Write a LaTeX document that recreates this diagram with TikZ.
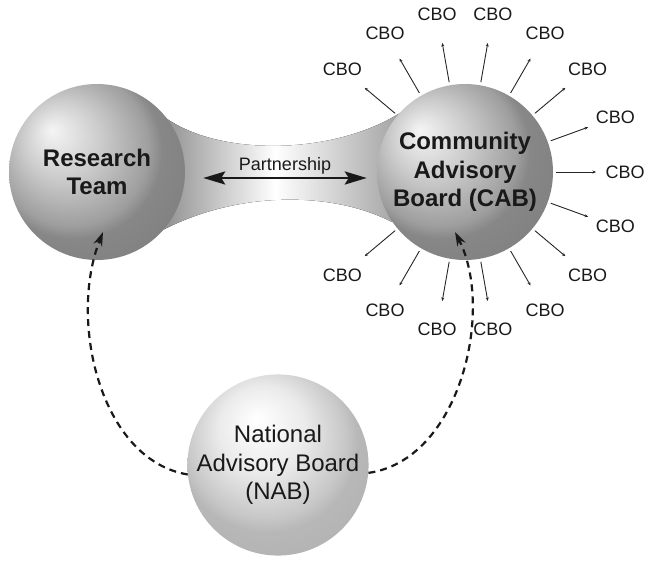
\documentclass[tikz,border=0pt]{standalone}
\usepackage{fontspec}
\setmainfont{Liberation Sans}
\usepackage{tikz}
\usetikzlibrary{arrows.meta,calc,positioning}
\pgfdeclareradialshading{sphereShade}{\pgfpoint{-13bp}{12bp}}{color(0bp)=(black!4); color(11bp)=(black!20); color(22bp)=(black!38); color(25bp)=(black!47); color(50bp)=(black!55)}
\pgfdeclareradialshading{nabShade}{\pgfpoint{-6bp}{13bp}}{color(0bp)=(white); color(12bp)=(black!8); color(22bp)=(black!22); color(25bp)=(black!28); color(50bp)=(black!35)}

\begin{document}
\begin{tikzpicture}[
    x=1pt, y=1pt,
    sphereNode/.style={circle, minimum size=176pt, inner sep=0pt, shading=sphereShade, align=center, text=black!90, font=\fontsize{24pt}{28.5pt}\selectfont\bfseries},
    nabNode/.style={circle, minimum size=174pt, inner sep=0pt, shading=nabShade, align=center, text=black!90, font=\fontsize{24pt}{28.5pt}\selectfont},
    cboLabel/.style={font=\fontsize{18pt}{20pt}\selectfont, inner sep=0pt, text=black!90},
    cboArrow/.style={-{Stealth[length=3.5pt,width=3pt]}, line width=0.9pt, shorten <=3pt, black!85},
    partnerArrow/.style={{Stealth[length=22pt,width=13pt,inset=4pt]}-{Stealth[length=22pt,width=13pt,inset=4pt]}, line width=2.8pt, black!90},
    dashArrow/.style={-{Stealth[length=14pt,width=9pt]}, line width=2.2pt, dash pattern=on 7pt off 5pt, black!90},
    tubeFill/.style={left color=black!60, right color=black!45, middle color=white}
]
\useasboundingbox (0,0) rectangle (653,560);

% neck joining the two spheres
\fill[tubeFill] (158,448) .. controls (210,403) and (330,403) .. (400,447) -- (430,388) -- (392,338) .. controls (330,370) and (230,370) .. (150,323) -- (120,388) -- cycle;

\node[sphereNode] (rt) at (97,388) {Research\\Team};
\node[sphereNode] (cab) at (465,388) {Community\\Advisory\\Board (CAB)};
\node[nabNode] (nab) at (278,95) {National\\Advisory Board\\(NAB)};

\draw[partnerArrow] ([xshift=18pt,yshift=-6pt]rt.east) -- node[above=2pt, inner sep=0pt, font=\fontsize{18pt}{20pt}\selectfont] (partner) {Partnership} ([xshift=-10pt,yshift=-6pt]cab.west);

% community based organisations round the CAB
\foreach \a [count=\i] in {140,120,100,80,60,40,20,0,-20,-40,-60,-80,-100,-120,-140} {
  \coordinate (cboEnd\i) at ($(cab.center)+(\a:131pt)$);
  \node[cboLabel] (cbo\i) at ($(cab.center)+(\a:160pt)$) {CBO};
  \draw[cboArrow] (cab.\a) -- (cboEnd\i);
}

% NAB feeds back to both partners
\coordinate (rtIn) at ($(rt.center)+(6,-60)$);
\coordinate (cabIn) at ($(cab.center)+(-10,-60)$);
\draw[dashArrow] (nab.186) .. controls (100,100) and (68,240) .. (rtIn);
\draw[dashArrow] (nab.-5) .. controls (460,100) and (495,250) .. (cabIn);

\end{tikzpicture}
\end{document}
